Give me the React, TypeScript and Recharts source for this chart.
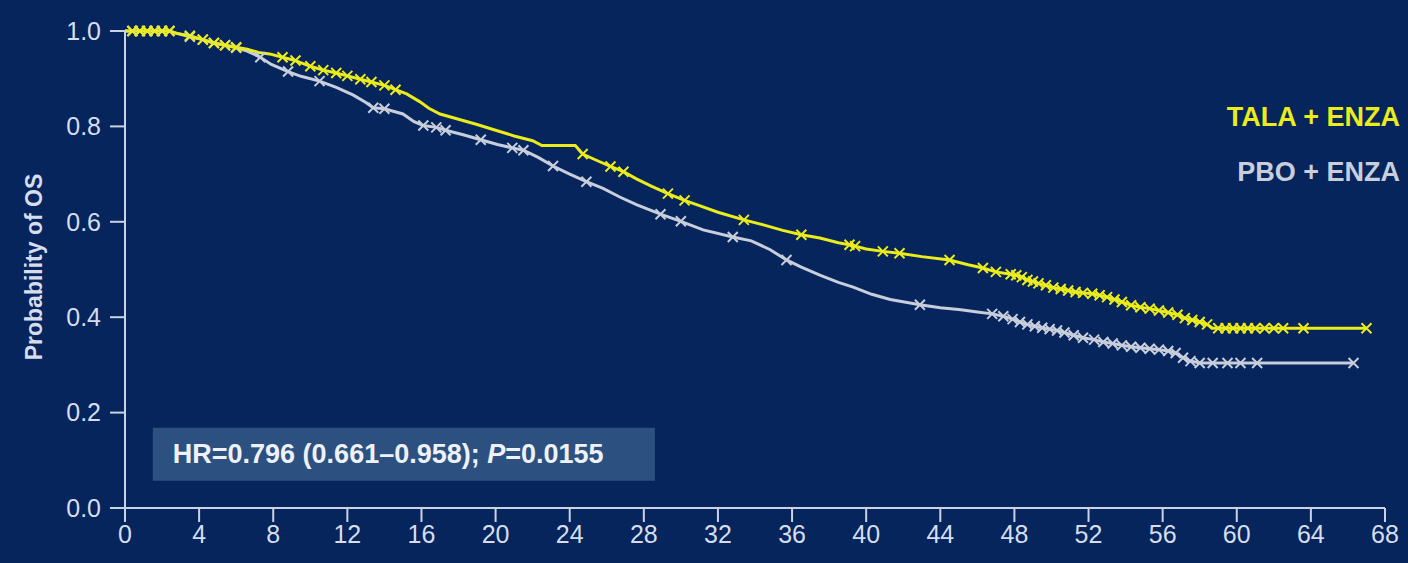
import React from "react";
import { LineChart, Line, XAxis, YAxis, ReferenceArea } from "recharts";

// [month, survival probability, censored (1 = tick mark)]
const TALA_ENZA: [number, number, number][] = [
  [0, 1, 0], [0.4, 1, 1], [0.8, 1, 1], [1.2, 1, 1], [1.6, 1, 1], [2.0, 1, 1], [2.4, 1, 1],
  [2.8, 0.995, 0], [3.5, 0.99, 1], [4.2, 0.982, 1], [4.8, 0.975, 1], [5.4, 0.97, 1],
  [6.0, 0.966, 1], [6.6, 0.962, 0], [7.2, 0.955, 0], [7.8, 0.952, 0], [8.5, 0.945, 1],
  [9.2, 0.938, 1], [10.0, 0.926, 1], [10.7, 0.918, 1], [11.4, 0.912, 1], [12.0, 0.906, 1],
  [12.7, 0.899, 1], [13.3, 0.893, 1], [14.0, 0.886, 1], [14.6, 0.877, 1], [15.2, 0.868, 0],
  [15.9, 0.852, 0], [16.4, 0.838, 0], [17.0, 0.826, 0], [18.0, 0.815, 0], [19.0, 0.804, 0],
  [20.0, 0.792, 0], [21.0, 0.78, 0], [22.0, 0.77, 0], [22.5, 0.76, 0], [24.3, 0.76, 0],
  [24.7, 0.742, 1], [25.5, 0.728, 0], [26.2, 0.716, 1], [26.9, 0.705, 1], [27.6, 0.69, 0],
  [28.4, 0.675, 0], [29.3, 0.659, 1], [30.2, 0.645, 1], [31.0, 0.634, 0], [32.0, 0.62, 0],
  [33.4, 0.604, 1], [34.5, 0.593, 0], [35.5, 0.582, 0], [36.5, 0.573, 1], [37.5, 0.566, 0],
  [38.5, 0.556, 0], [39.1, 0.552, 1], [39.4, 0.549, 1], [40.0, 0.543, 0], [40.9, 0.538, 1],
  [41.8, 0.534, 1], [43.0, 0.527, 0], [44.5, 0.52, 1], [45.5, 0.51, 0], [46.3, 0.503, 1],
  [47.0, 0.495, 1], [47.8, 0.49, 1], [48.1, 0.488, 1], [48.4, 0.484, 1], [48.7, 0.478, 1],
  [49.0, 0.475, 1], [49.3, 0.471, 1], [49.7, 0.467, 1], [50.1, 0.462, 1], [50.5, 0.459, 1],
  [50.9, 0.456, 1], [51.3, 0.453, 1], [51.7, 0.451, 1], [52.2, 0.449, 1], [52.6, 0.446, 1],
  [53.0, 0.442, 1], [53.4, 0.437, 1], [53.8, 0.432, 1], [54.3, 0.425, 1], [54.8, 0.421, 1],
  [55.3, 0.418, 1], [55.8, 0.414, 1], [56.3, 0.41, 1], [56.8, 0.405, 1], [57.2, 0.398, 1],
  [57.6, 0.394, 1], [58.0, 0.39, 1], [58.4, 0.385, 1], [58.7, 0.377, 0], [59.0, 0.377, 1],
  [59.4, 0.377, 1], [59.8, 0.377, 1], [60.2, 0.377, 1], [60.6, 0.377, 1], [61.0, 0.377, 1],
  [61.5, 0.377, 1], [62.0, 0.377, 1], [62.5, 0.377, 1], [63.6, 0.377, 1], [67.0, 0.377, 1],
];

const PBO_ENZA: [number, number, number][] = [
  [0, 1, 0], [0.4, 1, 1], [0.8, 1, 1], [1.2, 1, 1], [1.6, 1, 1], [2.0, 1, 1], [2.4, 1, 1],
  [2.8, 0.995, 0], [3.5, 0.988, 1], [4.2, 0.982, 1], [4.8, 0.975, 1], [5.4, 0.97, 1],
  [6.0, 0.965, 1], [6.6, 0.958, 0], [7.3, 0.945, 1], [7.9, 0.93, 0], [8.8, 0.915, 1],
  [9.5, 0.905, 0], [10.5, 0.895, 1], [11.4, 0.882, 0], [12.3, 0.866, 0], [13.0, 0.85, 0],
  [13.4, 0.839, 1], [14.0, 0.837, 1], [15.0, 0.826, 0], [15.6, 0.81, 0], [16.1, 0.802, 1],
  [16.8, 0.798, 1], [17.3, 0.792, 1], [18.2, 0.783, 0], [19.2, 0.772, 1], [20.1, 0.762, 0],
  [20.9, 0.755, 1], [21.5, 0.75, 1], [22.3, 0.735, 0], [23.1, 0.717, 1], [24.0, 0.7, 0],
  [24.9, 0.684, 1], [25.8, 0.67, 0], [26.7, 0.652, 0], [27.6, 0.636, 0], [28.9, 0.616, 1],
  [30.0, 0.601, 1], [31.2, 0.583, 0], [32.8, 0.568, 1], [33.8, 0.56, 0], [34.8, 0.542, 0],
  [35.7, 0.52, 1], [36.5, 0.505, 0], [37.5, 0.488, 0], [38.5, 0.473, 0], [39.3, 0.463, 0],
  [40.3, 0.448, 0], [41.3, 0.437, 0], [42.9, 0.426, 1], [44.0, 0.42, 0], [45.0, 0.416, 0],
  [46.0, 0.411, 0], [46.8, 0.407, 1], [47.4, 0.402, 1], [47.9, 0.396, 1], [48.3, 0.39, 1],
  [48.7, 0.385, 1], [49.1, 0.381, 1], [49.5, 0.378, 1], [49.9, 0.375, 1], [50.3, 0.372, 1],
  [50.7, 0.368, 1], [51.2, 0.362, 1], [51.7, 0.357, 1], [52.3, 0.353, 1], [52.8, 0.348, 1],
  [53.3, 0.345, 1], [53.8, 0.341, 1], [54.3, 0.338, 1], [54.8, 0.336, 1], [55.3, 0.334, 1],
  [55.8, 0.332, 1], [56.3, 0.329, 1], [56.7, 0.325, 1], [57.1, 0.315, 1], [57.5, 0.308, 1],
  [58.0, 0.304, 1], [58.7, 0.304, 1], [59.5, 0.304, 1], [60.2, 0.304, 1], [61.1, 0.304, 1],
  [66.3, 0.304, 1],
];

const X_TICKS = [0, 4, 8, 12, 16, 20, 24, 28, 32, 36, 40, 44, 48, 52, 56, 60, 64, 68];
const Y_TICKS = [0, 0.2, 0.4, 0.6, 0.8, 1.0];
const SERIES_NAMES = ["TALA + ENZA", "PBO + ENZA"];
const HR_BOX = { x1: 1.5, x2: 28.6, y1: 0.057, y2: 0.168 };

const BG = "#05255c";
const AXIS = "#c9d3e6";
const TEXT = "#d6dded";
const YELLOW = "#ecec1c";
const GREY = "#c8cedb";
const FONT = "'Liberation Sans', Arial, sans-serif";

const toRows = (pts: [number, number, number][]) =>
  pts.map(([t, s, c]) => ({ t, s, c }));

// draws a small "x" only where a patient was censored
function censorDot(color: string) {
  return (props: any) => {
    const { cx, cy, payload, index } = props;
    if (!payload || !payload.c || cx == null || cy == null) {
      return <g key={`n-${index}`} />;
    }
    const r = 5;
    return (
      <path
        key={`c-${index}`}
        d={`M${cx - r},${cy - r}L${cx + r},${cy + r}M${cx + r},${cy - r}L${cx - r},${cy + r}`}
        stroke={color}
        strokeWidth={2}
        fill="none"
      />
    );
  };
}

export default function App() {
  const tala = toRows(TALA_ENZA);
  const pbo = toRows(PBO_ENZA);

  return (
    <div
      style={{
        position: "absolute",
        left: 0,
        top: 0,
        width: 1408,
        height: 563,
        background: BG,
        overflow: "hidden",
      }}
    >
      <LineChart
        width={1408}
        height={563}
        margin={{ top: 31, right: 23, bottom: 0, left: 0 }}
      >
        <XAxis
          type="number"
          dataKey="t"
          domain={[0, 68]}
          ticks={X_TICKS}
          interval={0}
          height={55}
          tickSize={14}
          tickMargin={3}
          stroke={AXIS}
          strokeWidth={2}
          tick={{ fill: TEXT, fontSize: 25, fontFamily: FONT }}
          allowDataOverflow
        />
        <YAxis
          type="number"
          domain={[0, 1]}
          ticks={Y_TICKS}
          interval={0}
          width={125}
          tickSize={15}
          tickMargin={9}
          stroke={AXIS}
          strokeWidth={2}
          tickFormatter={(v: number) => v.toFixed(1)}
          tick={{ fill: TEXT, fontSize: 25, fontFamily: FONT }}
          label={() => (
            <text
              x={42}
              y={267}
              transform="rotate(-90 42 267)"
              textAnchor="middle"
              fill={TEXT}
              fontSize={23}
              fontWeight={700}
              fontFamily={FONT}
            >
              Probability of OS
            </text>
          )}
        />
        <ReferenceArea
          x1={HR_BOX.x1}
          x2={HR_BOX.x2}
          y1={HR_BOX.y1}
          y2={HR_BOX.y2}
          fill="#2c5080"
          fillOpacity={1}
          stroke="none"
          label={(p: any) => {
            const vb = p.viewBox || {};
            return (
              <text
                x={(vb.x || 0) + 20}
                y={(vb.y || 0) + (vb.height || 0) / 2}
                dominantBaseline="central"
                fill="#eef2f8"
                fontSize={27}
                fontWeight={700}
                fontFamily={FONT}
              >
                HR=0.796 (0.661–0.958); <tspan fontStyle="italic">P</tspan>=0.0155
              </text>
            );
          }}
        />
        <Line
          data={pbo}
          dataKey="s"
          name={SERIES_NAMES[1]}
          type="linear"
          stroke={GREY}
          strokeWidth={3}
          dot={censorDot(GREY)}
          activeDot={false}
          isAnimationActive={false}
        />
        <Line
          data={tala}
          dataKey="s"
          name={SERIES_NAMES[0]}
          type="linear"
          stroke={YELLOW}
          strokeWidth={3}
          dot={censorDot(YELLOW)}
          activeDot={false}
          isAnimationActive={false}
        />
      </LineChart>
      <div
        style={{
          position: "absolute",
          right: 8,
          top: 101,
          fontFamily: FONT,
          fontWeight: 700,
          fontSize: 27,
          textAlign: "right",
        }}
      >
        <div style={{ color: YELLOW, lineHeight: "32px" }}>{SERIES_NAMES[0]}</div>
        <div style={{ color: GREY, lineHeight: "32px", marginTop: 23 }}>{SERIES_NAMES[1]}</div>
      </div>
    </div>
  );
}
